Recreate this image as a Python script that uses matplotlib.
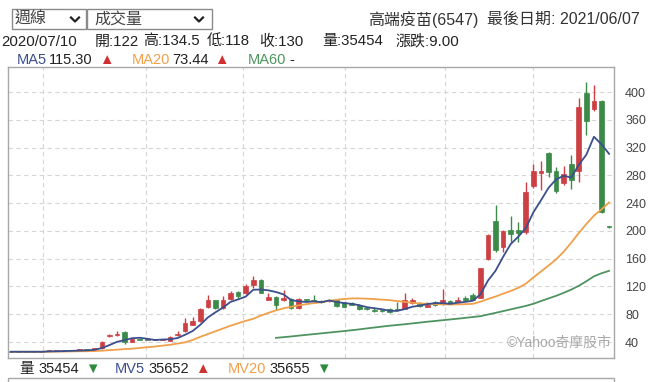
import numpy as np
import matplotlib
matplotlib.use('Agg')
import matplotlib.pyplot as plt
from matplotlib.patches import Rectangle
from matplotlib.lines import Line2D

plt.rcParams['font.family'] = ['Liberation Sans', 'Noto Sans CJK TC', 'DejaVu Sans']

# 週K資料 (由左至右)
opens = [26, 26, 26, 26, 26, 27, 27, 27, 27.5, 28,
         28.5, 29, 31, 48, 50, 55, 40.5, 44, 43, 43,
         43, 42, 50, 56, 65, 70, 90, 100, 89, 102,
         112, 110, 122, 129, 101, 105, 100, 102, 89, 101,
         101, 99, 99, 100, 97, 96, 94, 89, 85, 85,
         88, 88, 88, 96, 96, 91, 97, 95, 99, 97,
         104, 107, 104, 160, 214, 177, 201, 201, 198, 264,
         284, 312, 286, 269, 297, 286, 398, 375, 387, 206]
closes = [26, 26, 26, 26, 26, 28.5, 27.6, 27, 28.5, 28.5,
          28, 31, 40.5, 50, 52, 40, 45, 43.5, 43, 43.2,
          43.5, 47, 52, 67, 70, 88, 100, 89, 101, 111,
          106, 120, 130, 111, 105, 94, 103, 89, 102, 100,
          99, 97, 101, 92, 91, 94, 87, 87, 84, 84,
          83, 86, 100, 101, 92, 94, 93, 100, 96, 100,
          100, 101, 146, 194, 172, 200, 195, 197, 256, 286,
          286, 285, 258, 282, 273, 378, 358, 387, 227, 205]
highs = [26, 26, 26, 26, 26, 29, 28, 27.5, 29, 29.5,
         29, 31.5, 41, 52, 56, 56, 46, 44.5, 43.5, 43.5,
         44, 48, 56, 75, 76, 89, 107, 101, 106, 113,
         114, 124, 134.5, 131, 111, 106, 115, 103, 103, 102,
         108, 100, 102, 102, 98, 97, 95, 90, 90, 86,
         89, 97, 111, 104, 97, 97, 99, 117, 101, 105,
         106, 110, 146, 196, 237, 201, 221, 213, 270, 297,
         300, 314, 292, 293, 310, 392, 414, 410, 388, 207]
lows = [26, 26, 26, 26, 26, 26.5, 27, 26.5, 27, 27.5,
        27.5, 28.5, 30, 47, 49, 37, 40, 43, 42.5, 42.5,
        43, 41, 49, 55, 64, 69, 89, 88, 88, 100,
        104, 109, 118, 110, 100, 86, 99, 88, 88, 99,
        98, 96, 98, 91, 90, 93, 86, 86, 83, 83,
        82, 85, 87, 95, 91, 90, 92, 94, 95, 96,
        99, 100, 103, 158, 170, 170, 184, 184, 196, 262,
        259, 278, 255, 266, 261, 270, 338, 372, 226, 204]

ma5 = [26, 26, 26, 26, 26, 26.5, 26.7, 26.9, 27.3, 27.7,
       28, 28.7, 31.3, 35.6, 40.3, 42.7, 45.5, 46.1, 44.7, 42.9,
       43.6, 44, 45.7, 50.5, 55.9, 64.8, 75.4, 82.8, 89.6, 97.8,
       101.4, 105.4, 115.3, 115.6, 114.4, 112, 108.6, 100.4, 98.6, 97.6,
       98.6, 97.4, 99.8, 97.8, 96, 95, 93, 90.2, 88.6, 87.2,
       85, 84.8, 87.4, 90.8, 92.4, 94.6, 96, 96, 95, 96.6,
       97.8, 99.4, 108.6, 128.4, 142.6, 162.6, 181, 191.6, 204, 226.8,
       244, 262, 274.2, 279.4, 276.8, 295.2, 309.8, 335.6, 324.6, 311]
ma20 = [26, 26, 26, 26, 26, 26, 26.2, 26.3, 26.5, 26.7,
        26.8, 27, 27.5, 28.3, 29, 29.8, 30.5, 31.5, 32.5, 33.5,
        34.8, 36, 37.8, 39.5, 43, 47.5, 51.5, 55.5, 59.5, 63.5,
        67, 70.5, 73.44, 78, 82, 85.5, 88.5, 90.8, 92.8, 94.5,
        96, 97.3, 99.3, 100.8, 102, 102.8, 102.8, 102.4, 101.8, 101,
        100.3, 99, 97.8, 96.5, 95.5, 95, 94.6, 94.3, 94, 94.2,
        94.5, 95, 98, 102, 105.5, 109.6, 113.5, 118, 124, 133,
        141.5, 150, 159, 170, 183, 197, 210, 222, 231, 241]
ma60 = [np.nan] * 35 + [
        46, 47, 48, 49.2, 50.3,
        51.4, 52.5, 53.6, 54.7, 55.8, 57, 58.2, 59.6, 60.9, 62.2,
        63.5, 64.5, 65.6, 66.8, 68, 69.2, 70.3, 71.4, 72.5, 73.6,
        74.8, 76, 77.2, 79.6, 82, 84.5, 87, 89.5, 92, 95,
        99, 102.8, 106.5, 110.8, 115.5, 121, 127.5, 134.6, 139, 142.5]

y_ticks = [40, 80, 120, 160, 200, 240, 280, 320, 360, 400]
quarter_lines = [4.2, 17.8, 30.6, 44.1, 57.3, 68.9]  # 季度分隔

W, H = 656, 382
RED, GREEN, GRAY = '#cc3f42', '#3b8a47', '#666666'
C_MA5, C_MA20, C_MA60 = '#3a4f8c', '#f0a04a', '#4f9460'
TXT = '#222222'


def fx(x):
    return x / W


def fy(y):
    return 1 - y / H


fig = plt.figure(figsize=(W / 100, H / 100), dpi=100)
renderer = fig.canvas.get_renderer()


def text_run(x0, y, pieces, size):
    # 依序排列文字, gap 為與前一段的間距(px)
    x = x0
    for s, col, gap in pieces:
        x += gap
        t = fig.text(fx(x), fy(y), s, ha='left', va='center', fontsize=size, color=col)
        x = t.get_window_extent(renderer).x1


ax = fig.add_axes([fx(8), fy(358), 606 / W, 291 / H])

x = np.arange(len(closes))
o = np.array(opens)
c = np.array(closes)
cols = [RED if cc > oo else (GREEN if cc < oo else GRAY) for oo, cc in zip(o, c)]
bottoms = np.minimum(o, c)
heights = np.maximum(np.abs(c - o), 1.5)

ax.vlines(x, lows, highs, colors=cols, lw=1, zorder=2)
ax.bar(x, heights, bottom=bottoms, width=0.62, color=cols, edgecolor=cols,
       lw=0.5, zorder=2)

ax.plot(x, ma60, color=C_MA60, lw=1.3, zorder=3)
ax.plot(x, ma20, color=C_MA20, lw=1.3, zorder=3)
ax.plot(x, ma5, color=C_MA5, lw=1.3, zorder=4)

ax.set_xlim(-0.4, 79.65)
ax.set_ylim(17, 436)
ax.set_xticks([])
ax.yaxis.tick_right()
ax.set_yticks(y_ticks)
ax.tick_params(axis='y', length=0, pad=8, labelsize=9, labelcolor='#444444')
for t in y_ticks:
    ax.axhline(t, color='#d6d6d6', lw=0.8, ls=(0, (4, 3)), zorder=0)
for q in quarter_lines:
    ax.axvline(q, color='#d6d6d6', lw=0.8, ls=(0, (4, 3)), zorder=0)
for s in ax.spines.values():
    s.set_color('#a8a8a8')
    s.set_linewidth(1)

ax.text(0.997, 0.052, '©Yahoo奇摩股市', transform=ax.transAxes, ha='right',
        va='center', fontsize=10, color='#a8a8a8')

# 上方選單
for x0, x1, label, lx, cx in [(12, 86, '週線', 15, 75), (87, 212, '成交量', 94, 199)]:
    fig.patches.append(Rectangle((fx(x0), fy(29)), fx(x1 - x0), (29 - 9) / H,
                                 transform=fig.transFigure, fill=False,
                                 edgecolor='#8a8a8a', lw=1))
    fig.text(fx(lx), fy(19.5), label, ha='left', va='center', fontsize=11.5,
             color='#444444')
    fig.lines.append(Line2D([fx(cx - 4), fx(cx), fx(cx + 4)], [fy(17.5), fy(21.5), fy(17.5)],
                            transform=fig.transFigure, color='#222222', lw=1.6))

fig.text(fx(368), fy(19.5), '高端疫苗(6547)', ha='left', va='center', fontsize=11.5,
         color='#333333')
fig.text(fx(487), fy(19.5), '最後日期: 2021/06/07', ha='left', va='center',
         fontsize=11.5, color='#333333')

line2 = [('2020/07/10', 1), ('開:122', 95), ('高:134.5', 143), ('低:118', 207),
         ('收:130', 259), ('量:35454', 322), ('漲跌:9.00', 395)]
for s, lx in line2:
    fig.text(fx(lx), fy(41.5), s, ha='left', va='center', fontsize=10.8, color=TXT)

# MA 圖例
text_run(17, 60, [('MA5', C_MA5, 0), ('115.30', TXT, 2), ('▲', '#d03030', 6)], 10.5)
text_run(132, 60, [('MA20', C_MA20, 0), ('73.44', TXT, 2), ('▲', '#d03030', 5)], 10.5)
text_run(248, 60, [('MA60', C_MA60, 0), ('-', TXT, 3)], 10.5)

# 成交量圖例
text_run(19, 369, [('量', TXT, 0), ('35454', TXT, 5), ('▼', '#2e8b3e', 6)], 10.5)
text_run(115, 369, [('MV5', C_MA5, 0), ('35652', TXT, 3), ('▲', '#d03030', 6)], 10.5)
text_run(228, 369, [('MV20', C_MA20, 0), ('35655', TXT, 3), ('▼', '#2e8b3e', 6)], 10.5)

# 下方成交量面板邊框
fig.patches.append(Rectangle((fx(8), fy(400)), fx(606), (400 - 378) / H,
                             transform=fig.transFigure, fill=False,
                             edgecolor='#a8a8a8', lw=1))

fig.savefig('out.png', dpi=100)
